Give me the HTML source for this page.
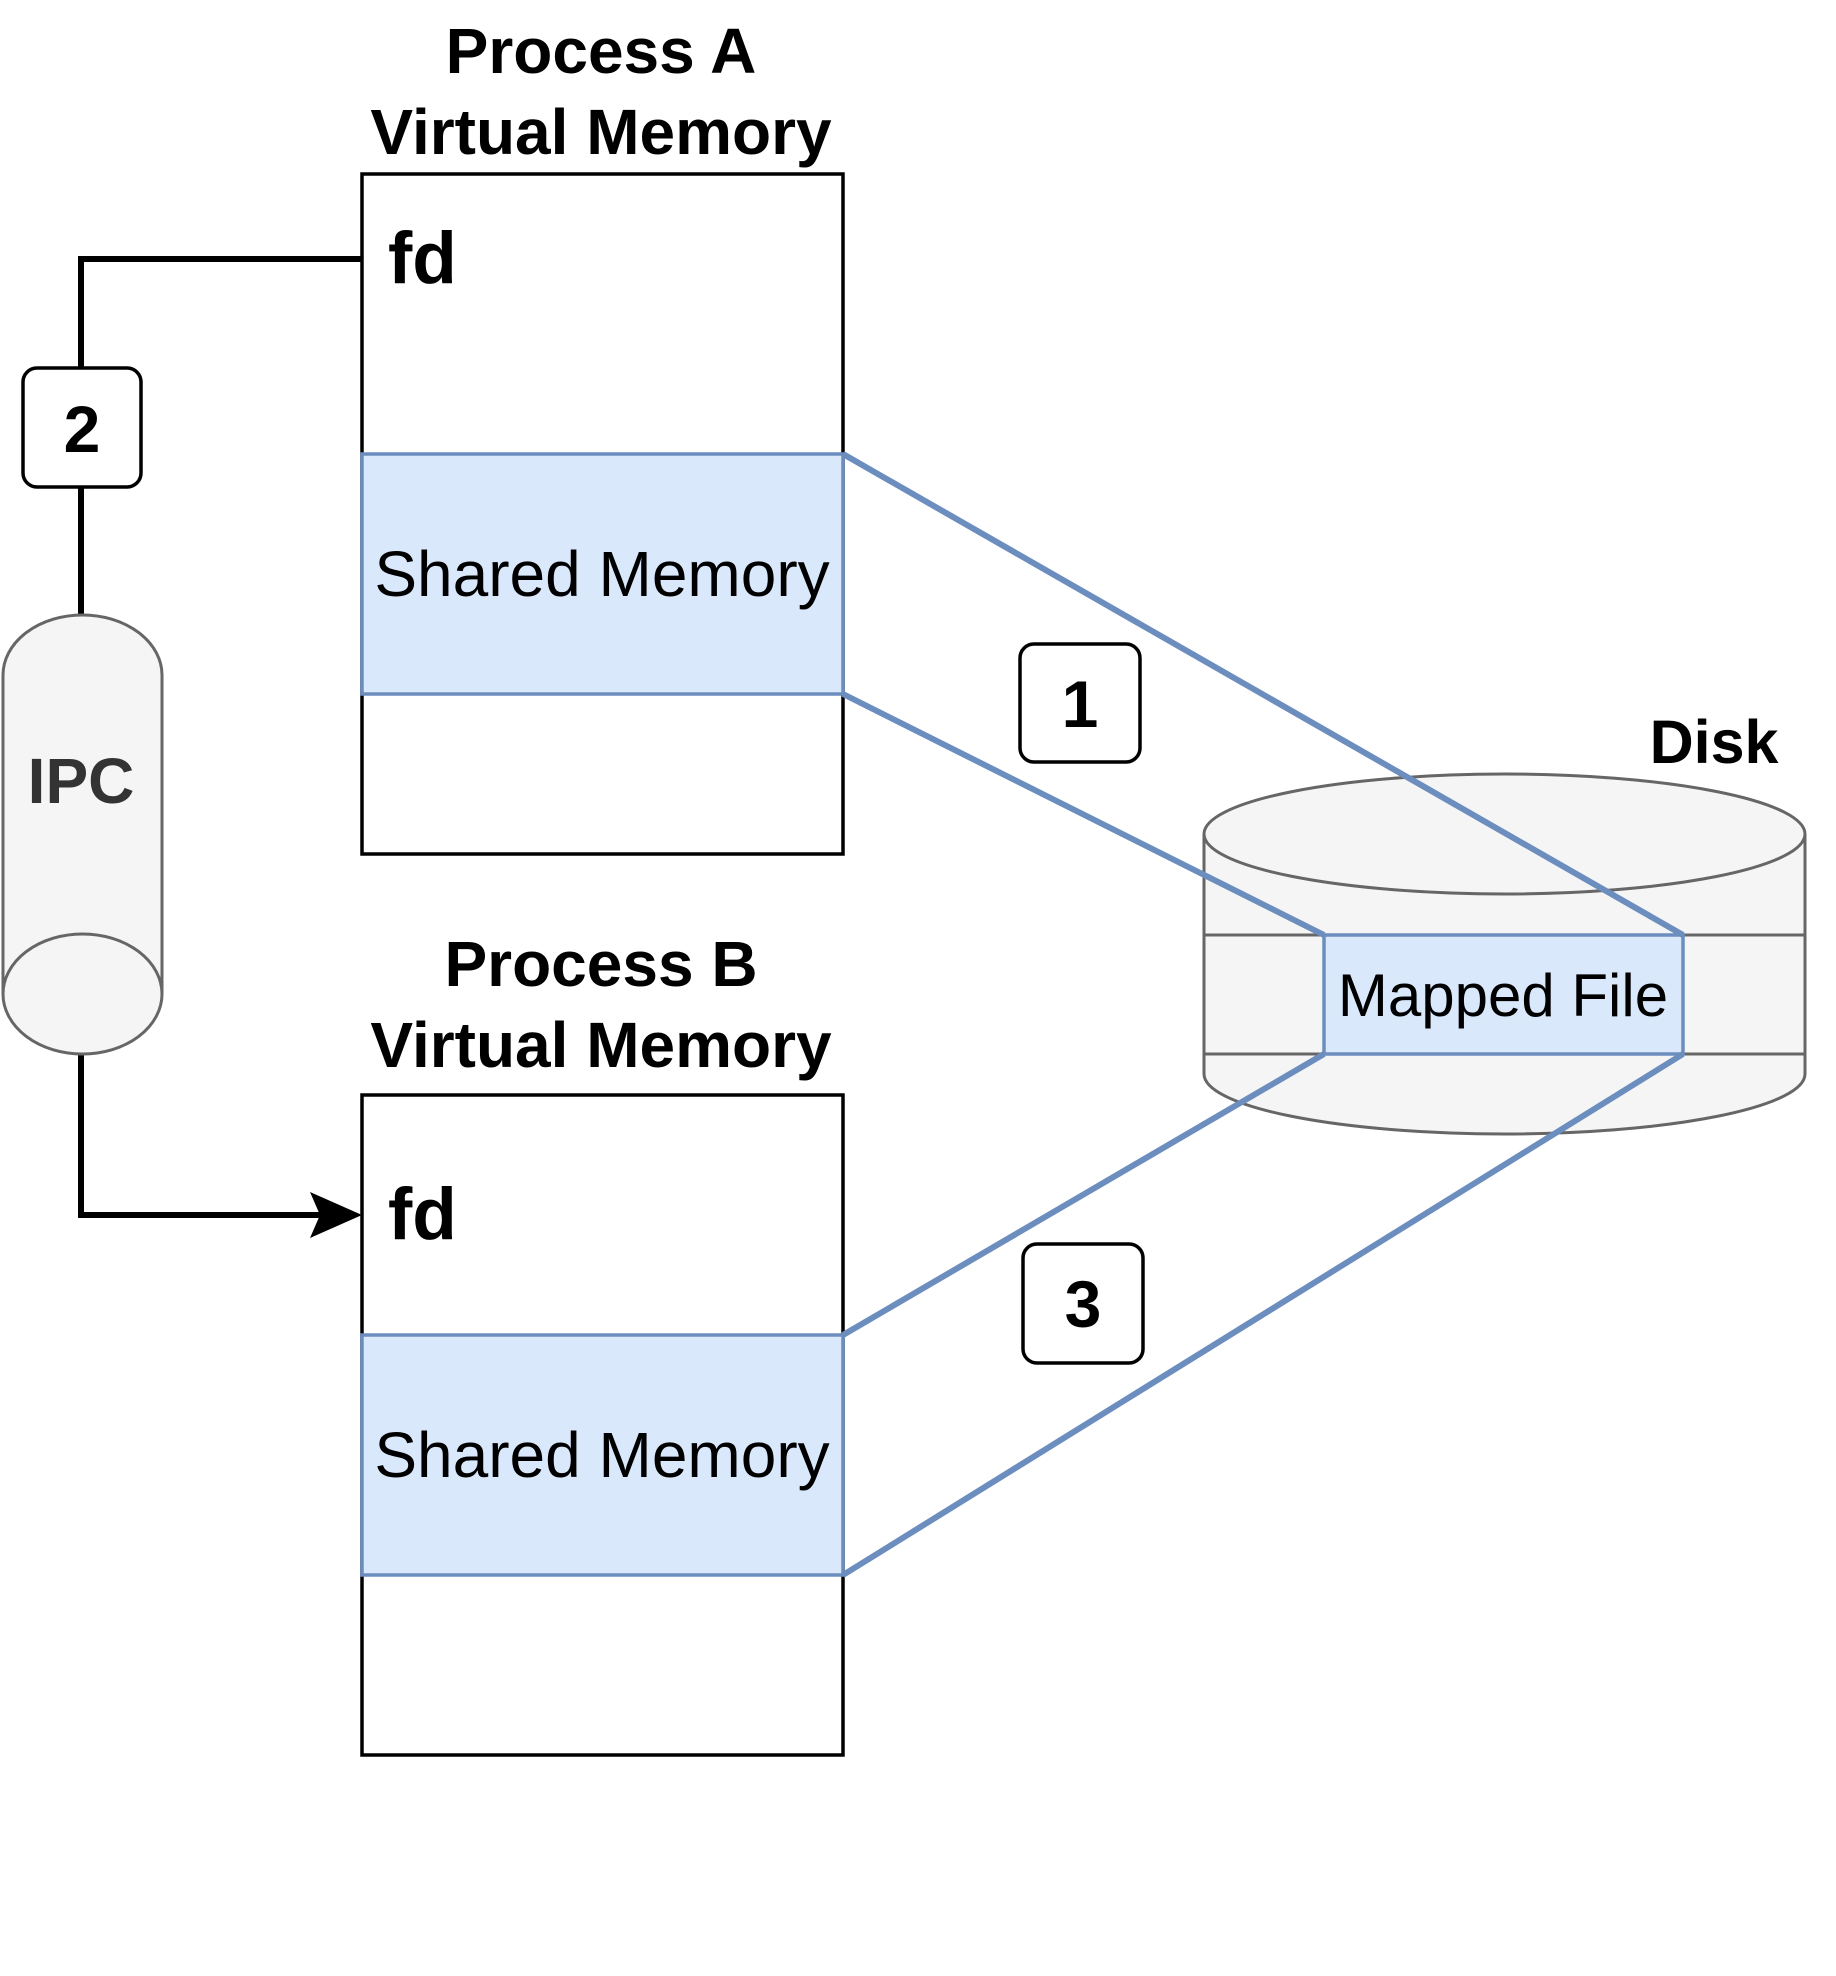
<!DOCTYPE html>
<html><head><meta charset="utf-8"><style>
html,body{margin:0;padding:0;background:#fff;}
svg{display:block;}
text{font-family:"Liberation Sans",Arial,sans-serif;}
</style></head><body>
<svg width="1836" height="1976" viewBox="0 0 1836 1976" xmlns="http://www.w3.org/2000/svg">
<!-- Titles -->
<text x="601" y="73" font-size="64" font-weight="bold" text-anchor="middle">Process A</text>
<text x="601" y="154" font-size="64" font-weight="bold" text-anchor="middle">Virtual Memory</text>
<text x="601" y="986" font-size="64" font-weight="bold" text-anchor="middle">Process B</text>
<text x="601" y="1067" font-size="64" font-weight="bold" text-anchor="middle">Virtual Memory</text>

<!-- Box A -->
<rect x="362" y="174" width="481" height="680" fill="#fff" stroke="#000" stroke-width="3.5"/>
<rect x="362" y="454" width="481" height="240" fill="#dae8fc" stroke="#6c8ebf" stroke-width="3.5"/>
<text x="388" y="283" font-size="73" font-weight="bold">fd</text>
<text x="602" y="596" font-size="64" text-anchor="middle">Shared Memory</text>

<!-- Box B -->
<rect x="362" y="1095" width="481" height="660" fill="#fff" stroke="#000" stroke-width="3.5"/>
<rect x="362" y="1335" width="481" height="240" fill="#dae8fc" stroke="#6c8ebf" stroke-width="3.5"/>
<text x="388" y="1239" font-size="73" font-weight="bold">fd</text>
<text x="602" y="1477" font-size="64" text-anchor="middle">Shared Memory</text>

<!-- IPC connector -->
<polyline points="362,259 81,259 81,615" fill="none" stroke="#000" stroke-width="6"/>
<polyline points="81,1054 81,1215 320,1215" fill="none" stroke="#000" stroke-width="6"/>
<polygon points="362,1215 310,1192 320,1215 310,1238" fill="#000"/>
<rect x="23" y="368" width="118" height="119" rx="14" fill="#fff" stroke="#000" stroke-width="3.5"/>
<text x="82" y="452" font-size="66" font-weight="bold" text-anchor="middle">2</text>

<!-- IPC cylinder -->
<path d="M3,675 A79.5,60 0 0 1 162,675 L162,994 A79.5,60 0 0 1 3,994 Z" fill="#f5f5f5" stroke="#666" stroke-width="3"/>
<path d="M3,994 A79.5,60 0 0 1 162,994" fill="none" stroke="#666" stroke-width="3"/>
<text x="81" y="803" font-size="64" font-weight="bold" fill="#333" text-anchor="middle">IPC</text>

<!-- Disk -->
<path d="M1204,834 A300.5,60 0 0 1 1805,834 L1805,1074 A300.5,60 0 0 1 1204,1074 Z" fill="#f5f5f5" stroke="#666" stroke-width="3"/>
<path d="M1204,834 A300.5,60 0 0 0 1805,834" fill="none" stroke="#666" stroke-width="3"/>
<line x1="1204" y1="935" x2="1805" y2="935" stroke="#666" stroke-width="3"/>
<line x1="1204" y1="1054" x2="1805" y2="1054" stroke="#666" stroke-width="3"/>
<rect x="1324" y="935" width="359" height="119" fill="#dae8fc" stroke="#6c8ebf" stroke-width="3.5"/>
<text x="1503" y="1016" font-size="60" text-anchor="middle">Mapped File</text>
<text x="1714" y="763" font-size="61" font-weight="bold" text-anchor="middle">Disk</text>

<!-- Blue lines -->
<g stroke="#6c8ebf" stroke-width="6" fill="none">
<line x1="843" y1="454" x2="1683" y2="935"/>
<line x1="843" y1="694" x2="1324" y2="935"/>
<line x1="843" y1="1335" x2="1324" y2="1054"/>
<line x1="843" y1="1575" x2="1683" y2="1054"/>
</g>

<!-- Labels 1, 3 -->
<rect x="1020" y="644" width="120" height="118" rx="14" fill="#fff" stroke="#000" stroke-width="3.5"/>
<text x="1080" y="727" font-size="66" font-weight="bold" text-anchor="middle">1</text>
<rect x="1023" y="1244" width="120" height="119" rx="14" fill="#fff" stroke="#000" stroke-width="3.5"/>
<text x="1083" y="1327" font-size="66" font-weight="bold" text-anchor="middle">3</text>
</svg>
</body></html>
